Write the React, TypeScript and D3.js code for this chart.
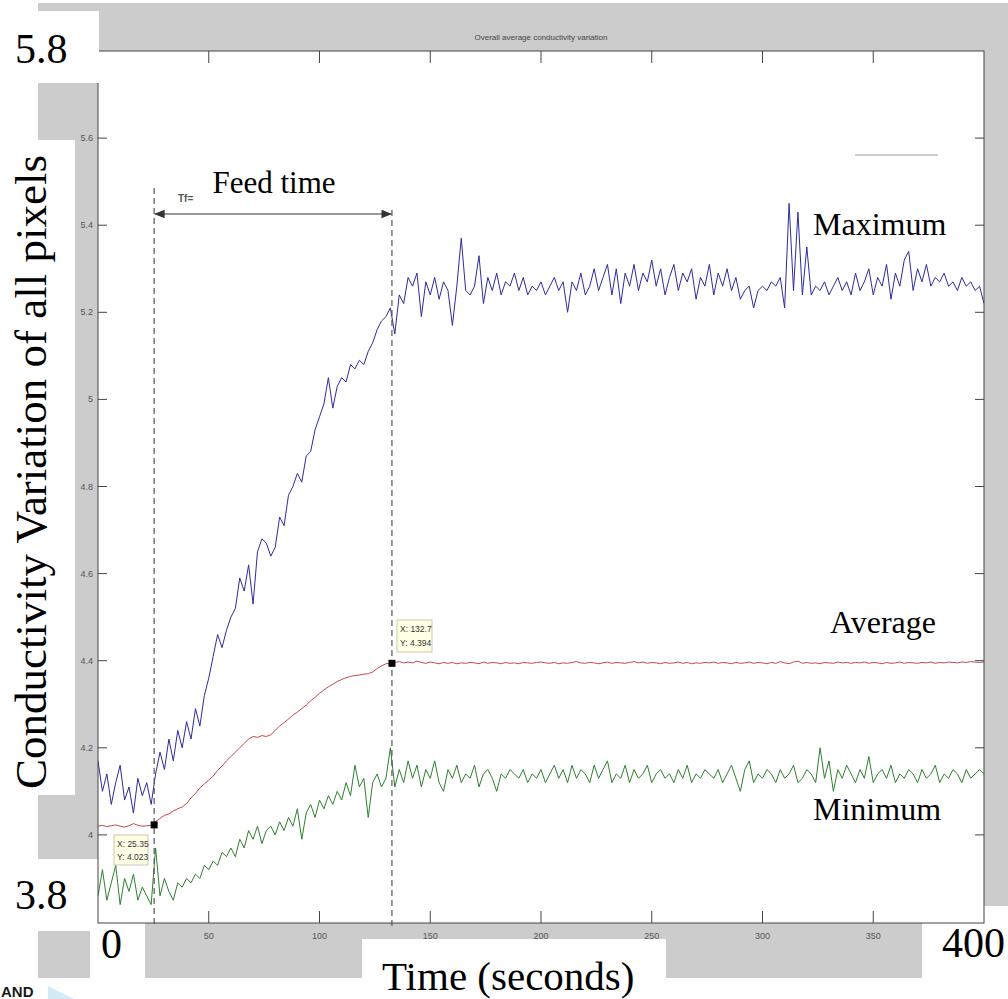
import React from 'react';
import * as d3 from 'd3';

const W = 1008;
const H = 999;

// Sampling grid of the recorded series (seconds)
const TIME_START = 0;
const TIME_STEP = 2;

const MAXIMUM = [
  4.17, 4.10, 4.14, 4.07, 4.12, 4.16, 4.08, 4.11, 4.05, 4.13,
  4.09, 4.12, 4.07, 4.14, 4.19, 4.15, 4.22, 4.17, 4.24, 4.20,
  4.26, 4.22, 4.29, 4.25, 4.32, 4.36, 4.41, 4.46, 4.43, 4.47,
  4.50, 4.52, 4.59, 4.56, 4.62, 4.53, 4.65, 4.68, 4.67, 4.64,
  4.66, 4.73, 4.71, 4.78, 4.80, 4.83, 4.81, 4.87, 4.88, 4.93,
  4.96, 4.99, 5.05, 4.98, 5.03, 5.05, 5.04, 5.08, 5.07, 5.09,
  5.08, 5.11, 5.13, 5.16, 5.18, 5.19, 5.21, 5.15, 5.24, 5.22,
  5.28, 5.26, 5.29, 5.19, 5.27, 5.24, 5.28, 5.23, 5.27, 5.25,
  5.17, 5.26, 5.37, 5.25, 5.24, 5.26, 5.33, 5.22, 5.28, 5.25,
  5.29, 5.24, 5.27, 5.26, 5.29, 5.25, 5.28, 5.24, 5.26, 5.25,
  5.27, 5.24, 5.26, 5.28, 5.25, 5.27, 5.20, 5.27, 5.25, 5.29,
  5.24, 5.26, 5.30, 5.25, 5.28, 5.31, 5.24, 5.30, 5.22, 5.29,
  5.26, 5.31, 5.25, 5.29, 5.27, 5.32, 5.26, 5.30, 5.24, 5.28,
  5.31, 5.25, 5.29, 5.27, 5.30, 5.23, 5.28, 5.26, 5.31, 5.24,
  5.29, 5.26, 5.30, 5.25, 5.28, 5.23, 5.25, 5.26, 5.21, 5.25,
  5.26, 5.25, 5.27, 5.26, 5.28, 5.21, 5.45, 5.25, 5.43, 5.24,
  5.35, 5.24, 5.26, 5.25, 5.27, 5.24, 5.26, 5.28, 5.25, 5.27,
  5.24, 5.29, 5.25, 5.27, 5.30, 5.24, 5.28, 5.26, 5.31, 5.23,
  5.29, 5.26, 5.32, 5.34, 5.25, 5.30, 5.27, 5.31, 5.26, 5.28,
  5.27, 5.29, 5.26, 5.27, 5.25, 5.28, 5.26, 5.27, 5.25, 5.26,
  5.22,
];

const AVERAGE = [
  4.020, 4.022, 4.019, 4.021, 4.023, 4.020, 4.018, 4.021, 4.026, 4.022,
  4.020, 4.021, 4.022, 4.030, 4.038, 4.045, 4.048, 4.055, 4.060, 4.064,
  4.072, 4.085, 4.095, 4.108, 4.117, 4.126, 4.135, 4.148, 4.158, 4.170,
  4.180, 4.190, 4.200, 4.210, 4.220, 4.226, 4.224, 4.228, 4.226, 4.230,
  4.240, 4.250, 4.258, 4.266, 4.275, 4.282, 4.290, 4.298, 4.308, 4.316,
  4.325, 4.333, 4.340, 4.346, 4.352, 4.357, 4.361, 4.364, 4.366, 4.367,
  4.369, 4.370, 4.374, 4.382, 4.388, 4.393, 4.394, 4.396, 4.398, 4.395,
  4.397, 4.395, 4.399, 4.396, 4.394, 4.397, 4.395, 4.393, 4.396, 4.394,
  4.396, 4.393, 4.395, 4.394, 4.396, 4.395, 4.393, 4.397, 4.394, 4.396,
  4.395, 4.393, 4.396, 4.394, 4.395, 4.393, 4.396, 4.395, 4.394, 4.396,
  4.397, 4.395, 4.394, 4.396, 4.393, 4.395, 4.394, 4.396, 4.398, 4.395,
  4.394, 4.396, 4.395, 4.393, 4.395, 4.397, 4.394, 4.396, 4.395, 4.394,
  4.396, 4.398, 4.395, 4.397, 4.394, 4.396, 4.395, 4.393, 4.396, 4.394,
  4.395, 4.397, 4.394, 4.396, 4.393, 4.395, 4.394, 4.396, 4.395, 4.397,
  4.394, 4.396, 4.395, 4.393, 4.396, 4.394, 4.395, 4.397, 4.394, 4.396,
  4.395, 4.393, 4.396, 4.394, 4.398, 4.395, 4.393, 4.397, 4.399, 4.394,
  4.396, 4.394, 4.395, 4.393, 4.396, 4.395, 4.394, 4.397, 4.395, 4.396,
  4.394, 4.396, 4.395, 4.397, 4.394, 4.396, 4.395, 4.393, 4.396, 4.394,
  4.395, 4.397, 4.394, 4.396, 4.395, 4.394, 4.396, 4.395, 4.397, 4.394,
  4.396, 4.395, 4.397, 4.396, 4.395, 4.397, 4.396, 4.398, 4.397, 4.396,
  4.397,
];

const MINIMUM = [
  3.86, 3.92, 3.85, 3.89, 3.93, 3.84, 3.90, 3.87, 3.91, 3.85,
  3.88, 3.86, 3.84, 3.97, 3.86, 3.90, 3.87, 3.85, 3.89, 3.88,
  3.90, 3.89, 3.91, 3.90, 3.93, 3.92, 3.94, 3.93, 3.96, 3.95,
  3.97, 3.95, 3.99, 3.97, 4.01, 3.99, 4.02, 3.98, 4.01, 4.02,
  4.00, 4.03, 4.01, 4.04, 4.02, 4.06, 3.99, 4.05, 4.07, 4.04,
  4.08, 4.06, 4.09, 4.07, 4.10, 4.08, 4.12, 4.09, 4.16, 4.11,
  4.13, 4.04, 4.12, 4.14, 4.11, 4.13, 4.20, 4.11, 4.15, 4.12,
  4.17, 4.13, 4.16, 4.11, 4.15, 4.13, 4.17, 4.12, 4.10, 4.15,
  4.13, 4.16, 4.12, 4.14, 4.13, 4.16, 4.11, 4.14, 4.15, 4.13,
  4.10, 4.14, 4.13, 4.15, 4.14, 4.13, 4.15, 4.12, 4.14, 4.13,
  4.15, 4.12, 4.14, 4.16, 4.13, 4.15, 4.12, 4.16, 4.13, 4.15,
  4.14, 4.12, 4.16, 4.13, 4.15, 4.17, 4.12, 4.14, 4.13, 4.16,
  4.12, 4.15, 4.13, 4.14, 4.16, 4.12, 4.14, 4.15, 4.13, 4.14,
  4.12, 4.15, 4.13, 4.16, 4.12, 4.14, 4.13, 4.15, 4.14, 4.13,
  4.15, 4.12, 4.14, 4.16, 4.13, 4.10, 4.15, 4.17, 4.12, 4.14,
  4.13, 4.15, 4.14, 4.12, 4.15, 4.13, 4.14, 4.16, 4.12, 4.13,
  4.15, 4.14, 4.12, 4.20, 4.13, 4.17, 4.10, 4.15, 4.13, 4.16,
  4.14, 4.12, 4.15, 4.13, 4.18, 4.12, 4.14, 4.15, 4.13, 4.16,
  4.12, 4.14, 4.13, 4.15, 4.14, 4.12, 4.15, 4.13, 4.14, 4.16,
  4.12, 4.14, 4.13, 4.15, 4.14, 4.12, 4.15, 4.13, 4.14, 4.15,
  4.14,
];

const X_TICKS = [50, 100, 150, 200, 250, 300, 350];
const Y_TICKS = [4.0, 4.2, 4.4, 4.6, 4.8, 5.0, 5.2, 5.4, 5.6];
const X_DOMAIN = [0, 400];
const Y_DOMAIN = [3.8, 5.8];

const FEED_START = 25.35;
const FEED_END = 132.7;
const TIP_START_Y = 4.023;
const TIP_END_Y = 4.394;

const TITLE = 'Overall average conductivity variation';
const Y_LABEL = 'Conductivity Variation of all pixels';
const X_LABEL = 'Time (seconds)';

const SERIES = [
  { name: 'Maximum', values: MAXIMUM, color: '#2c2c9e' },
  { name: 'Average', values: AVERAGE, color: '#c44a4a' },
  { name: 'Minimum', values: MINIMUM, color: '#2f7f2f' },
];

const SERIF = "'Liberation Serif', 'Times New Roman', serif";
const SMALL = "'Liberation Sans Narrow', 'Liberation Sans', Arial, sans-serif";
const GRAY = '#cccccc';

const L = 98, R = 984, T = 51, B = 923;

export default function App() {
  const x = d3.scaleLinear().domain(X_DOMAIN).range([L, R]);
  const y = d3.scaleLinear().domain(Y_DOMAIN).range([922, 51]);
  const line = d3
    .line<number>()
    .x((_, i) => x(TIME_START + i * TIME_STEP))
    .y((d) => y(d));

  const fx0 = x(FEED_START);
  const fx1 = x(FEED_END);
  const arrowY = 214;

  return (
    <div style={{ position: 'absolute', left: 0, top: 0 }}>
      <svg width={W} height={H} viewBox={`0 0 ${W} ${H}`} style={{ display: 'block', background: '#fff' }}>
        <defs>
          <clipPath id="plotClip">
            <rect x={L} y={T} width={R - L} height={B - T} />
          </clipPath>
          <marker id="arrowHead" viewBox="0 0 10 10" refX="9" refY="5" markerWidth="7" markerHeight="7" orient="auto-start-reverse">
            <path d="M0,1 L10,5 L0,9 Z" fill="#333" />
          </marker>
        </defs>

        {/* figure background (gray) */}
        <rect x={38} y={3} width={W - 38} height={T - 3} fill={GRAY} />
        <rect x={R} y={3} width={W - R} height={906 - 3} fill={GRAY} />
        <rect x={38} y={T} width={L - 38} height={859 - T} fill={GRAY} />
        <rect x={38} y={931} width={90 - 38} height={978 - 931} fill={GRAY} />
        <rect x={145} y={B} width={922 - 145} height={978 - B} fill={GRAY} />

        {/* title */}
        <text x={541} y={40} fontFamily={SMALL} fontSize={8} fill="#444" textAnchor="middle">{TITLE}</text>

        {/* plot area */}
        <rect x={L} y={T} width={R - L} height={B - T} fill="#fff" />

        {/* faint legend remnant */}
        <line x1={855} x2={938} y1={155} y2={155} stroke="#9a9a9a" strokeWidth={1} />

        {/* series */}
        <g clipPath="url(#plotClip)">
          {SERIES.map((s) => (
            <path key={s.name} d={line(s.values) || ''} fill="none" stroke={s.color} strokeWidth={1} strokeLinejoin="round" />
          ))}
        </g>

        {/* feed-time dashed markers */}
        <line x1={fx0} x2={fx0} y1={188} y2={927} stroke="#555" strokeWidth={1.2} strokeDasharray="6,4" />
        <line x1={fx1} x2={fx1} y1={210} y2={927} stroke="#555" strokeWidth={1.2} strokeDasharray="6,4" />
        <line x1={fx0 + 1} x2={fx1 - 1} y1={arrowY} y2={arrowY} stroke="#777" strokeWidth={1.5}
          markerStart="url(#arrowHead)" markerEnd="url(#arrowHead)" />
        <text x={178} y={202} fontFamily={SMALL} fontSize={10} fontWeight="bold" fill="#555">Tf=</text>

        {/* data tips */}
        <rect x={114} y={835} width={34} height={30} fill="#ffffe6" stroke="#c9c9b0" strokeWidth={1} />
        <text x={117} y={847} fontFamily={SMALL} fontSize={8.5} fill="#333">{`X: ${FEED_START}`}</text>
        <text x={117} y={860} fontFamily={SMALL} fontSize={8.5} fill="#333">{`Y: ${TIP_START_Y.toFixed(3)}`}</text>
        <rect x={fx0 - 3.5} y={y(TIP_START_Y) - 3.5} width={7} height={7} fill="#000" />

        <rect x={397} y={620} width={35} height={32} fill="#ffffe6" stroke="#c9c9b0" strokeWidth={1} />
        <text x={400} y={632} fontFamily={SMALL} fontSize={8.5} fill="#333">{`X: ${FEED_END}`}</text>
        <text x={400} y={646} fontFamily={SMALL} fontSize={8.5} fill="#333">{`Y: ${TIP_END_Y.toFixed(3)}`}</text>
        <rect x={fx1 - 3.5} y={y(TIP_END_Y) - 3.5} width={7} height={7} fill="#000" />

        {/* axes box */}
        <rect x={L} y={T} width={R - L} height={B - T} fill="none" stroke="#444" strokeWidth={1} />
        {X_TICKS.map((t) => (
          <g key={`xt${t}`}>
            <line x1={x(t)} x2={x(t)} y1={B} y2={B - 12} stroke="#444" strokeWidth={1} />
            <line x1={x(t)} x2={x(t)} y1={T} y2={T + 12} stroke="#444" strokeWidth={1} />
            <text x={x(t)} y={939} fontFamily={SMALL} fontSize={9} fill="#555" textAnchor="middle">{t}</text>
          </g>
        ))}
        {Y_TICKS.map((t) => (
          <g key={`yt${t}`}>
            <line x1={L} x2={L + 9} y1={y(t)} y2={y(t)} stroke="#444" strokeWidth={1} />
            <line x1={R} x2={R - 9} y1={y(t)} y2={y(t)} stroke="#444" strokeWidth={1} />
            <text x={93} y={y(t) + 3} fontFamily={SMALL} fontSize={9} fill="#555" textAnchor="end">
              {String(t)}
            </text>
          </g>
        ))}

        {/* overlay white boxes with large labels */}
        <rect x={0} y={11} width={99} height={72} fill="#fff" />
        <text x={15} y={63} fontFamily={SERIF} fontSize={42} fill="#000">{String(Y_DOMAIN[1])}</text>

        <rect x={0} y={140} width={75} height={655} fill="#fff" />
        <text transform="translate(46,472) rotate(-90)" fontFamily={SERIF} fontSize={45} fill="#000" textAnchor="middle">
          {Y_LABEL}
        </text>

        <text x={15} y={909} fontFamily={SERIF} fontSize={42} fill="#000">{String(Y_DOMAIN[0])}</text>
        <text x={101} y={958} fontFamily={SERIF} fontSize={42} fill="#000">{String(X_DOMAIN[0])}</text>
        <text x={942} y={957} fontFamily={SERIF} fontSize={42} fill="#000">{String(X_DOMAIN[1])}</text>

        <rect x={362} y={939} width={304} height={60} fill="#fff" />
        <text x={382} y={990} fontFamily={SERIF} fontSize={41} fill="#000">{X_LABEL}</text>

        <text x={274} y={193} fontFamily={SERIF} fontSize={31} fill="#000" textAnchor="middle">Feed time</text>
        <text x={813} y={235} fontFamily={SERIF} fontSize={32} fill="#000">{SERIES[0].name}</text>
        <text x={830} y={633} fontFamily={SERIF} fontSize={32} fill="#000">{SERIES[1].name}</text>
        <text x={813} y={820} fontFamily={SERIF} fontSize={32} fill="#000">{SERIES[2].name}</text>

        {/* corner fragment */}
        <polygon points="48,986 74,999 48,999" fill="#d4ebf6" />
        <text x={1} y={997} fontFamily="'Liberation Sans', Arial, sans-serif" fontWeight="bold" fontSize={15} fill="#1a1a1a">AND</text>
      </svg>
    </div>
  );
}
